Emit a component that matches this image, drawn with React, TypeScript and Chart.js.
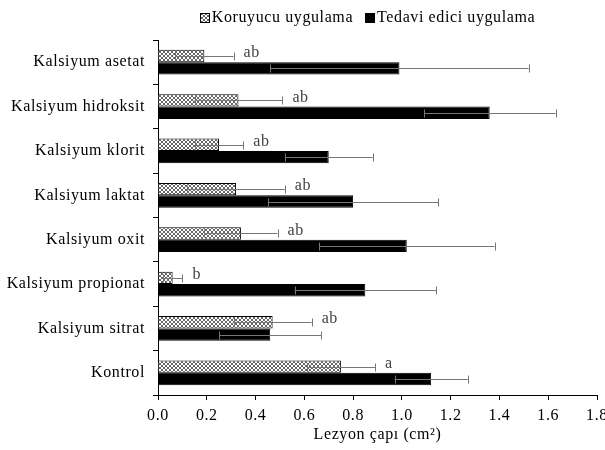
import { useEffect, useRef } from "react";
import { Chart, registerables } from "chart.js";
Chart.register(...registerables);

const categories = [
  "Kalsiyum asetat",
  "Kalsiyum hidroksit",
  "Kalsiyum klorit",
  "Kalsiyum laktat",
  "Kalsiyum oxit",
  "Kalsiyum propionat",
  "Kalsiyum sitrat",
  "Kontrol",
];
const koruyucu = [0.19, 0.33, 0.25, 0.32, 0.34, 0.06, 0.47, 0.75];
const koruyucuErr = [0.12, 0.18, 0.1, 0.2, 0.15, 0.04, 0.16, 0.14];
const tedavi = [0.99, 1.36, 0.7, 0.8, 1.02, 0.85, 0.46, 1.12];
const tedaviErr = [0.53, 0.27, 0.18, 0.35, 0.36, 0.29, 0.21, 0.15];
const letters = ["ab", "ab", "ab", "ab", "ab", "b", "ab", "a"];
const seriesNames = ["Koruyucu uygulama", "Tedavi edici uygulama"];
const xTitle = "Lezyon çapı (cm²)";

const FONT = '"Liberation Serif", "Times New Roman", serif';
const SPACING = "0.6px";

function makePattern(): CanvasPattern | string {
  const c = document.createElement("canvas");
  c.width = 4;
  c.height = 4;
  const g = c.getContext("2d");
  if (!g) return "#aaa";
  g.fillStyle = "#ffffff";
  g.fillRect(0, 0, 4, 4);
  g.fillStyle = "#666666";
  const pts = [
    [0, 0], [1, 1], [2, 2], [3, 3],
    [3, 0], [2, 1], [1, 2], [0, 3],
  ];
  pts.forEach(([x, y]) => g.fillRect(x, y, 1, 1));
  const p = g.createPattern(c, "repeat");
  return p || "#aaa";
}

function setSpacing(chart: any) {
  const ctx: any = chart.ctx;
  if (ctx && "letterSpacing" in ctx) ctx.letterSpacing = SPACING;
}

export default function App() {
  const ref = useRef<HTMLCanvasElement | null>(null);
  useEffect(() => {
    if (!ref.current) return;
    const pattern = makePattern();
    const errs = [koruyucuErr, tedaviErr];

    const overlay = {
      id: "overlay",
      beforeUpdate: setSpacing,
      beforeLayout: setSpacing,
      beforeDraw: setSpacing,
      afterDatasetsDraw(chart: any) {
        const ctx = chart.ctx;
        const xs = chart.scales.x;
        ctx.save();
        // error bars
        ctx.strokeStyle = "#777777";
        ctx.lineWidth = 1;
        for (let d = 0; d < 2; d++) {
          const meta = chart.getDatasetMeta(d);
          const vals = chart.data.datasets[d].data as number[];
          meta.data.forEach((bar: any, i: number) => {
            const v = vals[i];
            const e = errs[d][i];
            const x1 = xs.getPixelForValue(v - e);
            const x2 = xs.getPixelForValue(v + e);
            const y = Math.round(bar.y) + 0.5;
            ctx.beginPath();
            ctx.moveTo(x1, y);
            ctx.lineTo(x2, y);
            ctx.moveTo(Math.round(x1) + 0.5, y - 4);
            ctx.lineTo(Math.round(x1) + 0.5, y + 4);
            ctx.moveTo(Math.round(x2) + 0.5, y - 4);
            ctx.lineTo(Math.round(x2) + 0.5, y + 4);
            ctx.stroke();
          });
        }
        // letters
        const meta0 = chart.getDatasetMeta(0);
        ctx.fillStyle = "#404048";
        ctx.font = `16px ${FONT}`;
        ctx.textBaseline = "middle";
        ctx.textAlign = "left";
        meta0.data.forEach((bar: any, i: number) => {
          const x = xs.getPixelForValue(koruyucu[i] + koruyucuErr[i]) + 10;
          ctx.fillText(letters[i], x, bar.y - 3);
        });
        ctx.restore();
      },
      afterDraw(chart: any) {
        const ctx = chart.ctx;
        const area = chart.chartArea;
        ctx.save();
        ctx.font = `16px ${FONT}`;
        const box = 10;
        const gapBox = 2;
        const gapItem = 12;
        const w0 = ctx.measureText(seriesNames[0]).width;
        const w1 = ctx.measureText(seriesNames[1]).width;
        const total = box + gapBox + w0 + gapItem + box + gapBox + w1;
        let x = (area.left + area.right) / 2 - 10 - total / 2;
        const yc = 18;
        const fills = [pattern, "#000000"];
        seriesNames.forEach((name, i) => {
          ctx.fillStyle = fills[i];
          ctx.fillRect(Math.round(x), yc - 5, box, box);
          ctx.strokeStyle = "#000";
          ctx.lineWidth = 1;
          ctx.strokeRect(Math.round(x) + 0.5, yc - 5 + 0.5, box - 1, box - 1);
          x += box + gapBox;
          ctx.fillStyle = "#000";
          ctx.textBaseline = "middle";
          ctx.textAlign = "left";
          ctx.fillText(name, x, yc);
          x += (i === 0 ? w0 : w1) + gapItem;
        });
        ctx.restore();
      },
    };

    const chart = new Chart(ref.current, {
      type: "bar",
      data: {
        labels: categories,
        datasets: [
          {
            label: seriesNames[0],
            data: koruyucu,
            backgroundColor: pattern as any,
            borderColor: "#000",
            borderWidth: 1,
          },
          {
            label: seriesNames[1],
            data: tedavi,
            backgroundColor: "#000",
            borderColor: "#000",
            borderWidth: 1,
          },
        ],
      },
      options: {
        indexAxis: "y",
        animation: false,
        responsive: true,
        maintainAspectRatio: false,
        layout: { padding: { top: 40, right: 8, bottom: 0, left: 0 } },
        datasets: { bar: { categoryPercentage: 0.56, barPercentage: 1 } },
        plugins: {
          legend: { display: false },
          tooltip: { enabled: false },
        },
        scales: {
          x: {
            min: 0,
            max: 1.8,
            ticks: {
              stepSize: 0.2,
              color: "#000",
              font: { family: FONT, size: 16 },
              padding: 6,
              callback: (v: any) => Number(v).toFixed(1),
            },
            grid: {
              drawOnChartArea: false,
              drawTicks: true,
              tickLength: 5,
              color: "#000",
            },
            border: { color: "#000", width: 1 },
            title: {
              display: true,
              text: xTitle,
              color: "#000",
              font: { family: FONT, size: 16 },
              padding: { top: 4, bottom: 6 },
            },
            afterFit: (s: any) => {
              s.height = 55;
              s.paddingLeft = 0;
              s.paddingRight = 0;
            },
          },
          y: {
            ticks: {
              color: "#000",
              font: { family: FONT, size: 16 },
              padding: 8,
            },
            grid: {
              drawOnChartArea: false,
              drawTicks: true,
              tickLength: 5,
              offset: true,
              color: "#000",
            },
            border: { color: "#000", width: 1 },
            afterFit: (s: any) => {
              s.width = 158;
            },
          },
        },
      },
      plugins: [overlay],
    });
    return () => chart.destroy();
  }, []);

  return (
    <div style={{ position: "fixed", left: 0, top: 0, width: 605, height: 450, background: "#fff" }}>
      <canvas ref={ref} />
    </div>
  );
}
